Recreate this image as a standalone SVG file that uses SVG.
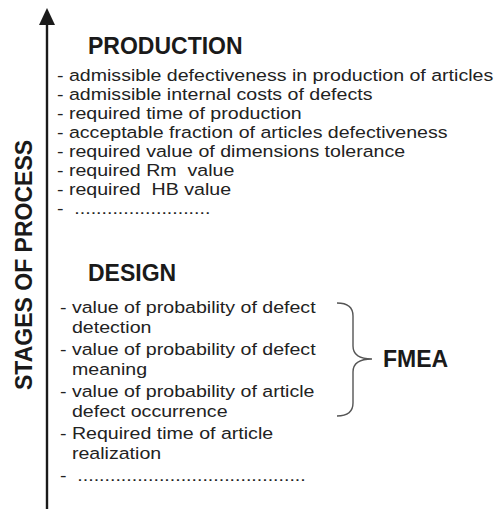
<svg xmlns="http://www.w3.org/2000/svg" width="497" height="509" viewBox="0 0 497 509">
<style>
.h{font-family:"Liberation Sans",Arial,sans-serif;font-weight:bold;font-size:23px;fill:#1a1a1a}
.t{font-family:"Liberation Sans",Arial,sans-serif;font-size:16.6px;fill:#222;white-space:pre}
.br{fill:none;stroke:#555;stroke-width:1.4}
</style>
<rect width="497" height="509" fill="#fff"/>
<g id="axis">
<line x1="47" y1="22" x2="47" y2="509" stroke="#1a1a1a" stroke-width="2.4"/>
<polygon points="47,8 39,25 55,25" fill="#1a1a1a"/>
<text class="h" transform="translate(32,390) rotate(-90)">STAGES OF PROCESS</text>
</g>
<g id="production">
<text class="h" x="88" y="54">PRODUCTION</text>
<g transform="scale(1.18,1)">
<text class="t" x="48.3" y="81">- admissible defectiveness in production of articles</text>
<text class="t" x="48.3" y="100">- admissible internal costs of defects</text>
<text class="t" x="48.3" y="119.5">- required time of production</text>
<text class="t" x="48.3" y="138.5">- acceptable fraction of articles defectiveness</text>
<text class="t" x="48.3" y="157.5">- required value of dimensions tolerance</text>
<text class="t" x="48.3" y="176.5">- required Rm  value</text>
<text class="t" x="48.3" y="195.5">- required  HB value</text>
<text class="t" x="48.3" y="214">-  .........................</text>
</g>
</g>
<g id="design">
<text class="h" x="88" y="281">DESIGN</text>
<g transform="scale(1.18,1)">
<text class="t" x="50.8" y="313">- value of probability of defect</text>
<text class="t" x="61" y="333">detection</text>
<text class="t" x="50.8" y="355">- value of probability of defect</text>
<text class="t" x="61" y="375.5">meaning</text>
<text class="t" x="50.8" y="397">- value of probability of article</text>
<text class="t" x="61" y="417">defect occurrence</text>
<text class="t" x="50.8" y="439">- Required time of article</text>
<text class="t" x="61" y="459">realization</text>
<text class="t" x="50.8" y="481">-  ..........................................</text>
</g>
</g>
<g id="connectors">
<path class="br" d="M337,303 C348,303 353,307 353,316 L353,346 C353,354 358,359 372,359 C358,359 353,364 353,372 L353,403 C353,412 348,416 337,416"/>
</g>
<g id="fmea">
<text class="h" x="383" y="367">FMEA</text>
</g>
</svg>
